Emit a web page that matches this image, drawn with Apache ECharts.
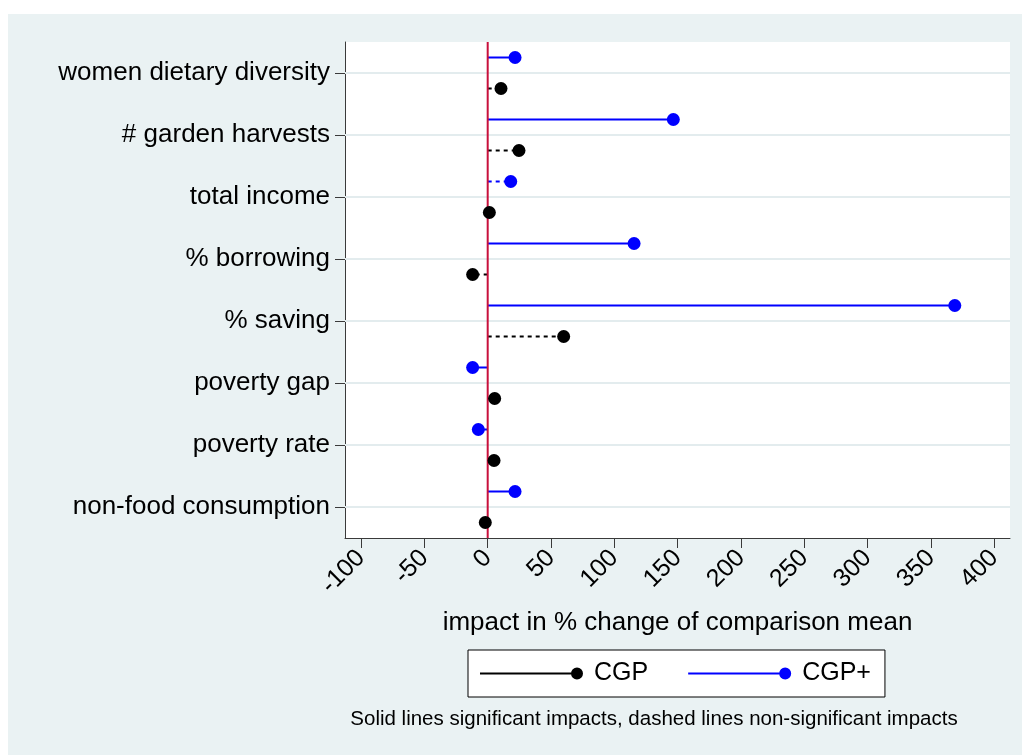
<!DOCTYPE html>
<html>
<head>
<meta charset="utf-8">
<title>Impact of CGP and CGP+</title>
<script src="https://cdn.jsdelivr.net/npm/echarts@6/dist/echarts.min.js"></script>
<style>
  html, body { margin: 0; padding: 0; background: #ffffff; }
  #frame { position: absolute; left: 8px; top: 14px; width: 1014px; height: 741px; }
</style>
</head>
<body>
<div id="frame"></div>
<script>
// Outcomes, top to bottom
const categories = [
  'women dietary diversity',
  '# garden harvests',
  'total income',
  '% borrowing',
  '% saving',
  'poverty gap',
  'poverty rate',
  'non-food consumption'
];

// Impact in % change of comparison mean
const cgpImpact     = [10.5, 24.7, 1.3, -11.9, 60.0, 5.5, 5.0, -1.9];
const cgpPlusImpact = [21.6, 146.6, 18.2, 115.6, 368.9, -11.9, -7.4, 21.6];

// Significant impacts get a solid stem, the rest a dashed one
const cgpSignificant     = [false, false, false, false, false, false, false, false];
const cgpPlusSignificant = [true, true, false, true, true, true, true, true];

const xTicks = [-100, -50, 0, 50, 100, 150, 200, 250, 300, 350, 400];
const rowTicks = [1, 2, 3, 4, 5, 6, 7, 8];

const FONT = '"Liberation Sans", Arial, Helvetica, sans-serif';
const ROW_OFFSET = 0.25;   // CGP+ sits just above each row tick, CGP just below
const AXIS_COLOR = '#3a3a3a';

function rowPoints(values, significant, offset) {
  return values.map((v, i) => [v, rowTicks[i] + offset, significant[i] ? 1 : 0]);
}
const cgpPoints = rowPoints(cgpImpact, cgpSignificant, ROW_OFFSET);
const cgpPlusPoints = rowPoints(cgpPlusImpact, cgpPlusSignificant, -ROW_OFFSET);

// Horizontal stem from zero to the estimate
function stemSeries(name, data, color) {
  return {
    type: 'custom',
    name: name,
    data: data,
    z: 2,
    silent: true,
    encode: { x: 0, y: 1 },
    renderItem(params, api) {
      const y = api.value(1);
      const a = api.coord([0, y]);
      const b = api.coord([api.value(0), y]);
      const solid = api.value(2) === 1;
      return {
        type: 'line',
        shape: { x1: a[0], y1: a[1], x2: b[0], y2: b[1] },
        style: { stroke: color, lineWidth: 2, lineDash: solid ? null : [4, 4], fill: null }
      };
    }
  };
}

// Light row gridlines at each outcome tick
const gridlineSeries = {
  type: 'custom',
  name: 'row grid',
  data: rowTicks.map(v => [v]),
  z: 1,
  silent: true,
  encode: { y: 0 },
  renderItem(params, api) {
    const cs = params.coordSys;
    const y = api.coord([0, api.value(0)])[1];
    return {
      type: 'line',
      shape: { x1: cs.x, y1: y, x2: cs.x + cs.width, y2: y },
      style: { stroke: '#e3ecee', lineWidth: 2 }
    };
  }
};

// Reference line at zero impact
const zeroLineSeries = {
  type: 'custom',
  name: 'zero',
  data: [[0]],
  z: 3,
  silent: true,
  encode: { x: 0 },
  renderItem(params, api) {
    const cs = params.coordSys;
    const x = api.coord([api.value(0), 1])[0];
    return {
      type: 'line',
      shape: { x1: x, y1: cs.y, x2: x, y2: cs.y + cs.height },
      style: { stroke: '#c8103c', lineWidth: 2 }
    };
  }
};

const legendIcon = 'path://M0,5L96,5L96,7L0,7ZM91,6A6,6,0,1,1,103,6A6,6,0,1,1,91,6Z';

const chart = echarts.init(document.getElementById('frame'), null, { renderer: 'canvas' });
chart.setOption({
  backgroundColor: '#eaf2f3',
  animation: false,
  textStyle: { fontFamily: FONT, color: '#000' },
  grid: {
    left: 337, top: 28, width: 665, height: 496,
    show: true, backgroundColor: '#ffffff', borderWidth: 0
  },
  xAxis: {
    type: 'value',
    min: -112.7,
    max: 412.5,
    name: 'impact in % change of comparison mean',
    nameLocation: 'middle',
    nameGap: 72,
    nameMoveOverlap: false,
    nameTextStyle: { fontFamily: FONT, fontSize: 26, color: '#000' },
    axisLine: { show: true, onZero: false, lineStyle: { color: AXIS_COLOR, width: 1 } },
    axisTick: { show: true, length: 10, customValues: xTicks, lineStyle: { color: AXIS_COLOR } },
    axisLabel: {
      customValues: xTicks,
      rotate: 45,
      margin: 16,
      fontFamily: FONT,
      fontSize: 25,
      color: '#000'
    },
    splitLine: { show: false }
  },
  yAxis: {
    type: 'value',
    inverse: true,
    min: 0.5,
    max: 8.5,
    axisLine: { show: true, onZero: false, lineStyle: { color: AXIS_COLOR, width: 1 } },
    axisTick: { show: true, length: 10, customValues: rowTicks, lineStyle: { color: AXIS_COLOR } },
    axisLabel: {
      customValues: rowTicks,
      margin: 15,
      fontFamily: FONT,
      fontSize: 26,
      color: '#000',
      formatter: v => categories[Math.round(v) - 1]
    },
    splitLine: { show: false }
  },
  legend: {
    data: ['CGP', 'CGP+'],
    left: 460,
    top: 636,
    orient: 'horizontal',
    selectedMode: false,
    backgroundColor: '#ffffff',
    borderColor: '#000000',
    borderWidth: 1,
    borderRadius: 0,
    padding: [11, 14, 11, 12],
    itemGap: 40,
    itemWidth: 103,
    itemHeight: 12,
    icon: legendIcon,
    textStyle: { fontFamily: FONT, fontSize: 25, color: '#000', padding: [0, 0, 0, 6] }
  },
  graphic: [{
    type: 'text',
    silent: true,
    x: 646,
    y: 705,
    style: {
      text: 'Solid lines significant impacts, dashed lines non-significant impacts',
      textAlign: 'center',
      textVerticalAlign: 'middle',
      font: '20.5px ' + FONT,
      fill: '#000'
    }
  }],
  series: [
    gridlineSeries,
    stemSeries('CGP stems', cgpPoints, '#000000'),
    stemSeries('CGP+ stems', cgpPlusPoints, '#0000ff'),
    zeroLineSeries,
    {
      type: 'scatter', name: 'CGP', data: cgpPoints, z: 4,
      symbol: 'circle', symbolSize: 13,
      itemStyle: { color: '#000000', opacity: 1 },
      encode: { x: 0, y: 1 }
    },
    {
      type: 'scatter', name: 'CGP+', data: cgpPlusPoints, z: 4,
      symbol: 'circle', symbolSize: 13,
      itemStyle: { color: '#0000ff', opacity: 1 },
      encode: { x: 0, y: 1 }
    }
  ]
});
</script>
</body>
</html>
